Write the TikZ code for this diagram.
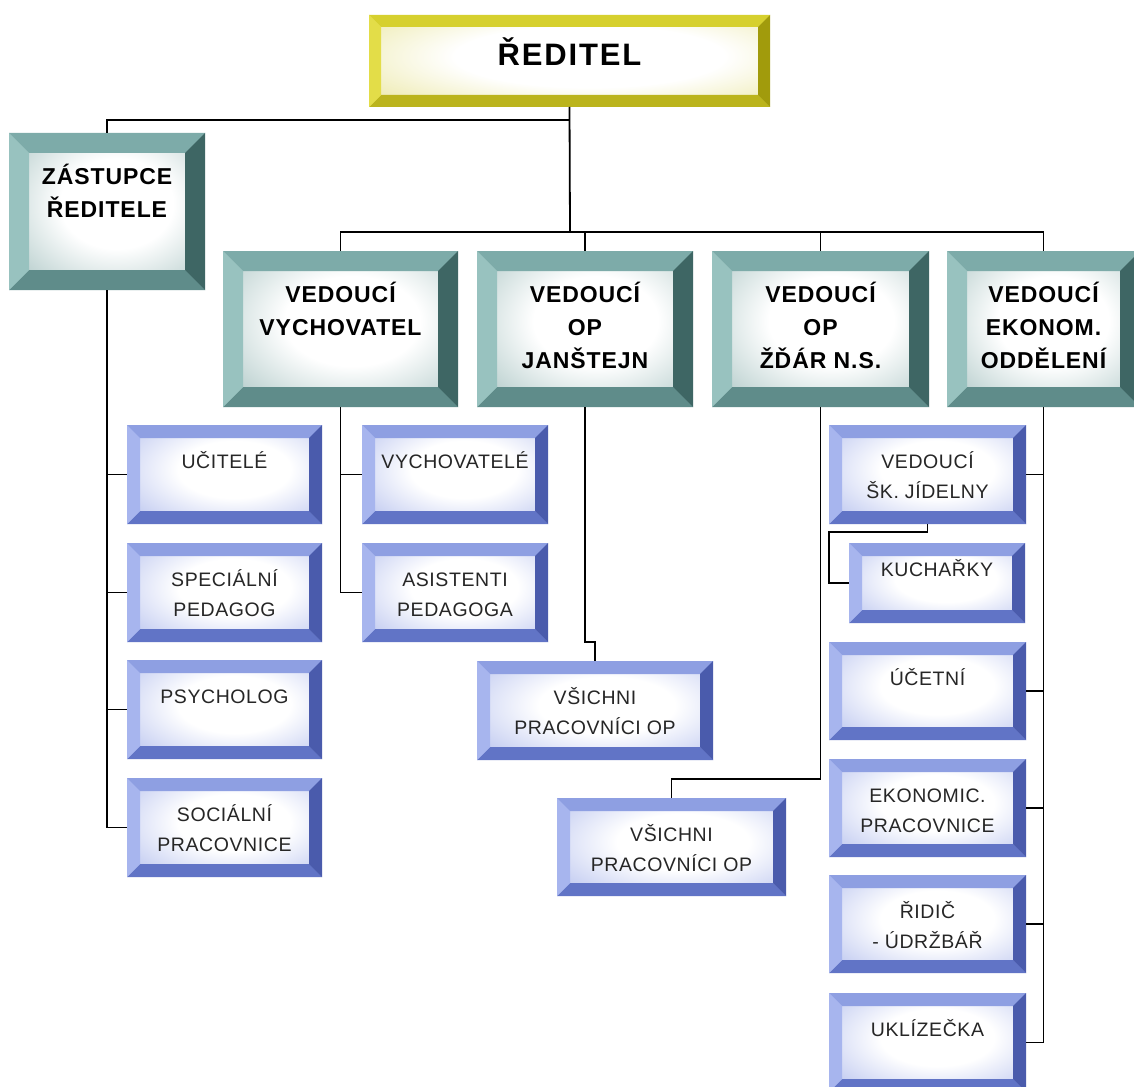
\documentclass[tikz,border=0pt]{standalone}
\usepackage{fontspec}
\setmainfont{Liberation Sans}
\newfontfamily\hdfont[LetterSpace=4]{Liberation Sans}
\newfontfamily\bxfont[LetterSpace=3]{Liberation Sans}
\newfontfamily\topfont[LetterSpace=6]{Liberation Sans}
\usetikzlibrary{calc}
\definecolor{tealT}{HTML}{7DABA9}
\definecolor{tealL}{HTML}{98C2BF}
\definecolor{tealR}{HTML}{3E6664}
\definecolor{tealB}{HTML}{5F8C8A}
\definecolor{tealI}{HTML}{7FA7A5}
\definecolor{bluT}{HTML}{8E9FE2}
\definecolor{bluL}{HTML}{A7B5EE}
\definecolor{bluR}{HTML}{4A5BAC}
\definecolor{bluB}{HTML}{6174C6}
\definecolor{bluI}{HTML}{94A4E6}
\definecolor{ylwT}{HTML}{D6D02E}
\definecolor{ylwL}{HTML}{E3DD48}
\definecolor{ylwR}{HTML}{A19B0C}
\definecolor{ylwB}{HTML}{BBB41C}
\definecolor{ylwI}{HTML}{DCD660}
\pgfdeclareradialshading{tealglow}{\pgfpoint{0bp}{0bp}}{color(0bp)=(white); color(12bp)=(white); color(40bp)=(tealI); color(50bp)=(tealI)}
\pgfdeclareradialshading{bluglow}{\pgfpoint{0bp}{0bp}}{color(0bp)=(white); color(12bp)=(white); color(40bp)=(bluI); color(50bp)=(bluI)}
\pgfdeclareradialshading{ylwglow}{\pgfpoint{0bp}{0bp}}{color(0bp)=(white); color(14bp)=(white); color(44bp)=(ylwI); color(50bp)=(ylwI)}
\newcommand\mytstrut{\rule{0pt}{25pt}}
\newcommand\mybstrut{\rule{0pt}{21pt}}
\newcommand\myrstrut{\rule{0pt}{32pt}}
\tikzset{
  bev/.style 2 args={rectangle, inner sep=0pt, outer sep=0pt,
    path picture={
      \fill[#2I] (path picture bounding box.south west) rectangle (path picture bounding box.north east);
      \begin{scope}
        \clip ([shift={(#1,#1)}]path picture bounding box.south west) rectangle ([shift={(-#1,-#1)}]path picture bounding box.north east);
        \shade[shading=#2glow] ($(path picture bounding box.south west)!-0.05!(path picture bounding box.north east)$) rectangle ($(path picture bounding box.south west)!1.15!(path picture bounding box.north east)$);
      \end{scope}
      \fill[#2T] (path picture bounding box.north west) -- (path picture bounding box.north east) -- ([shift={(-#1,-#1)}]path picture bounding box.north east) -- ([shift={(#1,-#1)}]path picture bounding box.north west) -- cycle;
      \fill[#2B] (path picture bounding box.south west) -- (path picture bounding box.south east) -- ([shift={(-#1,#1)}]path picture bounding box.south east) -- ([shift={(#1,#1)}]path picture bounding box.south west) -- cycle;
      \fill[#2L] (path picture bounding box.south west) -- (path picture bounding box.north west) -- ([shift={(#1,-#1)}]path picture bounding box.north west) -- ([shift={(#1,#1)}]path picture bounding box.south west) -- cycle;
      \fill[#2R] (path picture bounding box.south east) -- (path picture bounding box.north east) -- ([shift={(-#1,-#1)}]path picture bounding box.north east) -- ([shift={(-#1,#1)}]path picture bounding box.south east) -- cycle;
    }},
  tealbox/.style={bev={20pt}{teal}},
  blubox/.style={bev={13pt}{blu}},
  ylwbox/.style={bev={12pt}{ylw}},
  conn/.style={line width=1.8pt, draw=black},
  ttxt/.style={anchor=north, inner sep=0pt, align=center, text=black, font=\hdfont\bfseries\fontsize{23}{33}\selectfont},
  btxt/.style={anchor=north, inner sep=0pt, align=center, text=black!85, font=\bxfont\fontsize{19.5}{30}\selectfont},
  rtxt/.style={anchor=north, inner sep=0pt, align=center, text=black, font=\topfont\bfseries\fontsize{31}{36}\selectfont}
}
\begin{document}
\begin{tikzpicture}[x=1pt,y=-1pt]
\fill[white] (0,0) rectangle (1134,1086);
\useasboundingbox (0,0) rectangle (1134,1086);

% top
\node[ylwbox, minimum width=401pt, minimum height=92pt] (R) at (569.5,61) {};
\node[rtxt] (Rt) at ([yshift=-18pt]R.north) {\myrstrut ŘEDITEL};

% teal level
\node[tealbox, minimum width=196pt, minimum height=157pt] (Z) at (107,211.5) {};
\node[ttxt] (Zt) at ([yshift=-26pt]Z.north) {\mytstrut ZÁSTUPCE\\ŘEDITELE};
\node[tealbox, minimum width=235pt, minimum height=156pt] (VV) at (340.5,329) {};
\node[ttxt] (VVt) at ([yshift=-26pt]VV.north) {\mytstrut VEDOUCÍ\\VYCHOVATEL};
\node[tealbox, minimum width=216pt, minimum height=156pt] (JAN) at (585,329) {};
\node[ttxt] (JANt) at ([yshift=-26pt]JAN.north) {\mytstrut VEDOUCÍ\\OP\\JANŠTEJN};
\node[tealbox, minimum width=217pt, minimum height=156pt] (ZD) at (820.5,329) {};
\node[ttxt] (ZDt) at ([yshift=-26pt]ZD.north) {\mytstrut VEDOUCÍ\\OP\\ŽĎÁR N.S.};
\node[tealbox, minimum width=193pt, minimum height=156pt] (EK) at (1043.5,329) {};
\node[ttxt] (EKt) at ([yshift=-26pt]EK.north) {\mytstrut VEDOUCÍ\\EKONOM.\\ODDĚLENÍ};

% left column
\node[blubox, minimum width=195pt, minimum height=99pt] (U1) at (224.5,474.5) {};
\node[btxt] (U1t) at ([yshift=-22pt]U1.north) {\mybstrut UČITELÉ};
\node[blubox, minimum width=195pt, minimum height=99pt] (U2) at (224.5,592.5) {};
\node[btxt] (U2t) at ([yshift=-22pt]U2.north) {\mybstrut SPECIÁLNÍ\\PEDAGOG};
\node[blubox, minimum width=195pt, minimum height=99pt] (U3) at (224.5,709.5) {};
\node[btxt] (U3t) at ([yshift=-22pt]U3.north) {\mybstrut PSYCHOLOG};
\node[blubox, minimum width=195pt, minimum height=99pt] (U4) at (224.5,827.5) {};
\node[btxt] (U4t) at ([yshift=-22pt]U4.north) {\mybstrut SOCIÁLNÍ\\PRACOVNICE};

% vychovatel column
\node[blubox, minimum width=186pt, minimum height=99pt] (VY1) at (455,474.5) {};
\node[btxt] (VY1t) at ([yshift=-22pt]VY1.north) {\mybstrut VYCHOVATELÉ};
\node[blubox, minimum width=186pt, minimum height=99pt] (VY2) at (455,592.5) {};
\node[btxt] (VY2t) at ([yshift=-22pt]VY2.north) {\mybstrut ASISTENTI\\PEDAGOGA};

% vsichni
\node[blubox, minimum width=236pt, minimum height=99pt] (VS1) at (595,710.5) {};
\node[btxt] (VS1t) at ([yshift=-22pt]VS1.north) {\mybstrut VŠICHNI\\PRACOVNÍCI OP};
\node[blubox, minimum width=229pt, minimum height=98pt] (VS2) at (671.5,847) {};
\node[btxt] (VS2t) at ([yshift=-22pt]VS2.north) {\mybstrut VŠICHNI\\PRACOVNÍCI OP};

% right column
\node[blubox, minimum width=197pt, minimum height=99pt] (VJ) at (927.5,474.5) {};
\node[btxt] (VJt) at ([yshift=-22pt]VJ.north) {\mybstrut VEDOUCÍ\\ŠK. JÍDELNY};
\node[blubox, minimum width=176pt, minimum height=80pt] (KU) at (937,583) {};
\node[btxt] (KUt) at ([yshift=-12pt]KU.north) {\mybstrut KUCHAŘKY};
\node[blubox, minimum width=197pt, minimum height=98pt] (UC) at (927.5,691) {};
\node[btxt] (UCt) at ([yshift=-22pt]UC.north) {\mybstrut ÚČETNÍ};
\node[blubox, minimum width=197pt, minimum height=98pt] (EKP) at (927.5,808) {};
\node[btxt] (EKPt) at ([yshift=-22pt]EKP.north) {\mybstrut EKONOMIC.\\PRACOVNICE};
\node[blubox, minimum width=197pt, minimum height=98pt] (RID) at (927.5,924) {};
\node[btxt] (RIDt) at ([yshift=-22pt]RID.north) {\mybstrut ŘIDIČ\\- ÚDRŽBÁŘ};
\node[blubox, minimum width=197pt, minimum height=99pt] (UKL) at (927.5,1042.5) {};
\node[btxt] (UKLt) at ([yshift=-22pt]UKL.north) {\mybstrut UKLÍZEČKA};

% connectors
\coordinate (bus) at (570,232);
\draw[conn] (R.south) -- (bus);
\draw[conn] (R.south) -- ++(0,13) -| (Z.north);
\draw[conn] (bus) -| (VV.north);
\draw[conn] (bus) -| (JAN.north);
\draw[conn] (bus) -| (ZD.north);
\draw[conn] (bus) -| (EK.north);

\draw[conn] (Z.south) |- (U1.west);
\draw[conn] (Z.south) |- (U2.west);
\draw[conn] (Z.south) |- (U3.west);
\draw[conn] (Z.south) |- (U4.west);

\draw[conn] (VV.south) |- (VY1.west);
\draw[conn] (VV.south) |- (VY2.west);

\draw[conn] (JAN.south) -- ++(0,235) -| (VS1.north);
\draw[conn] (ZD.south) -- ++(0,372) -| (VS2.north);

\draw[conn] (EK.south) |- (VJ.east);
\draw[conn] (EK.south) |- (UC.east);
\draw[conn] (EK.south) |- (EKP.east);
\draw[conn] (EK.south) |- (RID.east);
\draw[conn] (EK.south) |- (UKL.east);
\draw[conn] (VJ.south) -- ++(0,8) -| ([xshift=-20pt]KU.west) -- (KU.west);
\end{tikzpicture}
\end{document}
